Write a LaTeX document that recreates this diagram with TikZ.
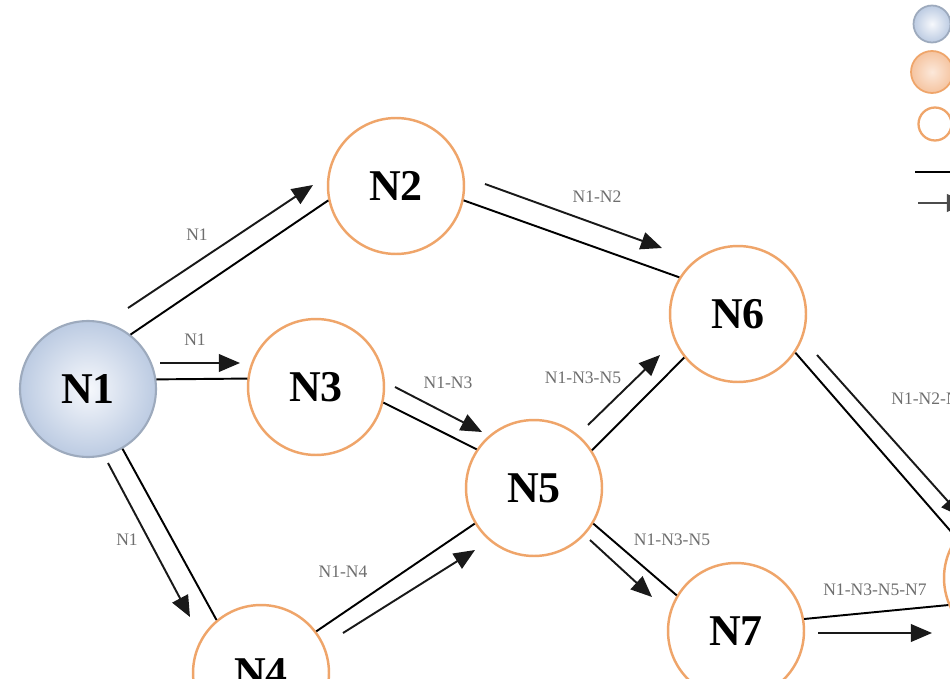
\documentclass[tikz,border=0pt]{standalone}
\usepackage{fontspec}
\setmainfont{Liberation Serif}
\usetikzlibrary{calc,arrows.meta}

\definecolor{nodeorange}{HTML}{EFA56A}
\definecolor{sourceedge}{HTML}{9DAABD}
\definecolor{sourcein}{HTML}{F6F8FC}
\definecolor{sourceout}{HTML}{BCCBE2}
\definecolor{peachin}{HTML}{FCE8DA}
\definecolor{peachout}{HTML}{F5C4A0}
\definecolor{labelgray}{HTML}{6E6E6E}

\begin{document}
\begin{tikzpicture}[x=0.02cm, y=-0.02cm,
  station/.style={circle, draw=nodeorange, line width=1.4pt, fill=white,
    minimum size=2.72cm, inner sep=0pt,
    font=\fontsize{25}{28}\selectfont\bfseries},
  source/.style={station, draw=sourceedge, line width=1.2pt,
    inner color=sourcein, outer color=sourceout},
  link/.style={line width=1.1pt, black},
  msg/.style={line width=1.1pt, black!90, -{Triangle[length=12pt,width=10pt]}},
  lbl/.style={font=\fontsize{10}{12}\selectfont, text=labelgray, inner sep=0pt},
  keymark/.style={circle, inner sep=0pt, line width=1pt}]

\useasboundingbox (0,0) rectangle (950,679);
\fill[white] (0,0) rectangle (950,679);
\clip (0,0) rectangle (950,679);

% stations
\node[source]  (N1) at (88,389)  {N1};
\node[station] (N2) at (396,186) {N2};
\node[station] (N3) at (316,387) {N3};
\node[station] (N4) at (261,673) {N4};
\node[station] (N5) at (534,488) {N5};
\node[station] (N6) at (738,314) {N6};
\node[station] (N7) at (736,631) {N7};
\node[station] (N8) at (1012,578) {};

% physical links
\draw[link] (N1.52)  -- (N2.192);
\draw[link] (N1.8)   -- (N3.173);
\draw[link] (N1.300) -- (N4.130);
\draw[link] (N2.348) -- (N6.148);
\draw[link] (N3.347) -- (N5.146);
\draw[link] (N5.33)  -- (N6.219);
\draw[link] (N4.37)  -- (N5.211);
\draw[link] (N5.329) -- (N7.149);
\draw[link] (N7.10)  -- (N8.203);
\draw[link] (N6.326) -- (N8.144);

% path messages travelling along the links
\draw[msg] ($(N1)+(40,-81)$) -- ($(N2)+(-83,-1)$);
\draw[msg] ($(N1)+(72,-26)$) -- ($(N3)+(-76,-24)$);
\draw[msg] ($(N1)+(20,74)$)  -- ($(N4)+(-71,-56)$);
\draw[msg] ($(N2)+(89,-2)$)  -- ($(N6)+(-76,-66)$);
\draw[msg] ($(N3)+(79,0)$)   -- ($(N5)+(-52,-56)$);
\draw[msg] ($(N5)+(54,-63)$) -- ($(N6)+(-78,41)$);
\draw[msg] ($(N4)+(82,-40)$) -- ($(N5)+(-59,62)$);
\draw[msg] ($(N5)+(56,52)$)  -- ($(N7)+(-84,-34)$);
\draw[msg] ($(N7)+(82,2)$)   -- ($(N8)+(-80,55)$);
\draw[msg] ($(N6)+(79,41)$)  -- ($(N8)+(-50,-61)$);

% message labels
\node[lbl] (l12) at (197,235) {N1};
\node[lbl] (l13) at (195,340) {N1};
\node[lbl] (l14) at (127,540) {N1};
\node[lbl] (l26) at (597,197) {N1-N2};
\node[lbl] (l35) at (448,383) {N1-N3};
\node[lbl] (l56) at (583,378) {N1-N3-N5};
\node[lbl] (l45) at (343,572) {N1-N4};
\node[lbl] (l57) at (672,540) {N1-N3-N5};
\node[lbl] (l78) at (875,590) {N1-N3-N5-N7};
\node[lbl, anchor=west] (l68) at (891,399) {N1-N2-N6};

% key
\node[keymark, draw=sourceedge, inner color=sourcein, outer color=sourceout,
      minimum size=0.74cm] (k1) at (932,24) {};
\node[keymark, draw=nodeorange, inner color=peachin, outer color=peachout,
      minimum size=0.84cm] (k2) at (932,72) {};
\node[keymark, draw=nodeorange, line width=1.3pt, fill=white,
      minimum size=0.66cm] (k3) at (935,124) {};
\coordinate (k4a) at (915,172);
\coordinate (k4b) at (965,172);
\draw[link] (k4a) -- (k4b);
\coordinate (k5a) at (918,203);
\coordinate (k5b) at (968,203);
\draw[msg, black!70] (k5a) -- (k5b);
\end{tikzpicture}
\end{document}
